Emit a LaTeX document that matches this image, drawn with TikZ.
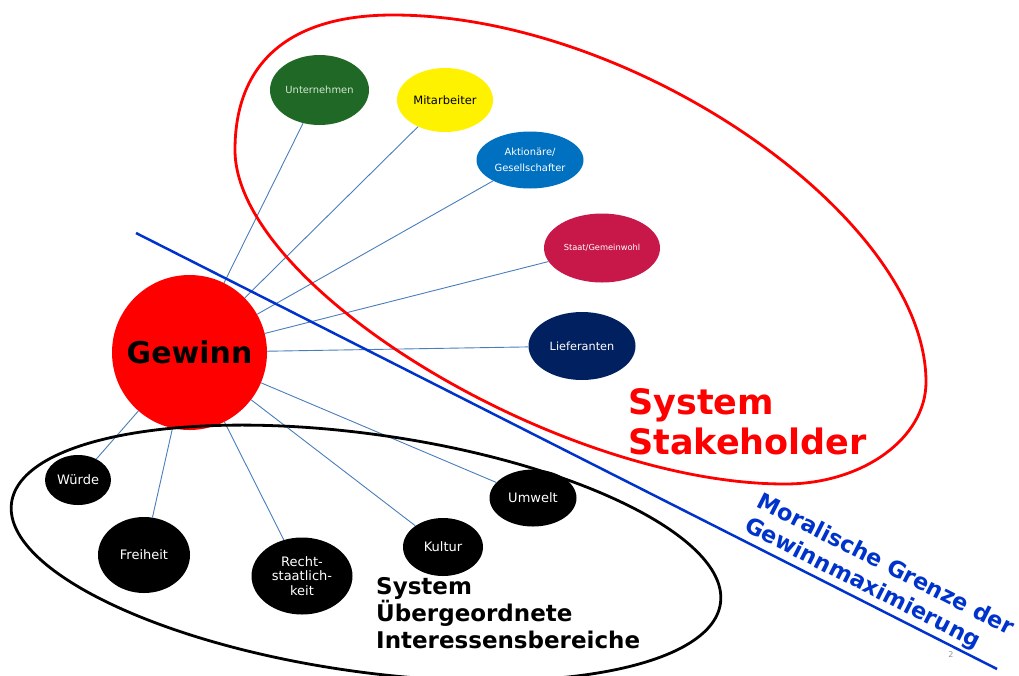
\documentclass[tikz,border=0pt]{standalone}
\usepackage{fontspec}
\setmainfont{DejaVu Sans}
\usetikzlibrary{shapes.geometric}
\definecolor{conncol}{RGB}{74,126,187}
\definecolor{ugreen}{RGB}{31,104,38}
\definecolor{utext}{RGB}{215,232,210}
\definecolor{aktblue}{RGB}{0,112,192}
\definecolor{staatred}{RGB}{200,24,74}
\definecolor{liefblue}{RGB}{0,32,96}
\definecolor{lineblue}{RGB}{0,51,204}
\definecolor{pagegray}{RGB}{150,150,150}
\begin{document}
\begin{tikzpicture}[x=1pt,y=1pt,
  bub/.style={ellipse, inner sep=0pt, align=center, text=white},
  conn/.style={draw=conncol, line width=0.9pt},
  systext/.style={anchor=north west, inner sep=0pt, align=left},
]
\useasboundingbox (0,0) rectangle (1019,-675);
% stakeholder nodes
\node[bub, fill=ugreen, text=utext, minimum width=99, minimum height=70, font=\fontsize{9.9}{12}\selectfont] (u) at (319.5,-90) {Unternehmen};
\node[bub, fill=yellow, text=black, minimum width=96, minimum height=64, font=\fontsize{11.5}{13}\selectfont] (m) at (445,-100) {Mitarbeiter};
\node[bub, fill=aktblue, minimum width=107, minimum height=57, font=\fontsize{9.9}{15.7}\selectfont] (a) at (530,-160) {Aktionäre/\\Gesellschafter};
\node[bub, fill=staatred, minimum width=116, minimum height=69, font=\fontsize{8.3}{10}\selectfont] (s) at (602,-248) {Staat/Gemeinwohl};
\node[bub, fill=liefblue, minimum width=107, minimum height=68, font=\fontsize{11.3}{13}\selectfont] (l) at (582,-346) {Lieferanten};
% center
\node[circle, fill=red, inner sep=0pt, minimum size=155, font=\bfseries\fontsize{30}{32}\selectfont] (g) at (189.5,-352.5) {Gewinn};
% higher-level nodes
\node[bub, fill=black, minimum width=66, minimum height=50, font=\fontsize{13}{14.7}\selectfont] (w) at (78,-480) {Würde};
\node[bub, fill=black, minimum width=92, minimum height=76, font=\fontsize{13}{14.7}\selectfont] (f) at (144,-555) {Freiheit};
\node[bub, fill=black, minimum width=101, minimum height=77, font=\fontsize{13}{14.7}\selectfont] (r) at (302,-576) {Recht-\\staatlich-\\keit};
\node[bub, fill=black, minimum width=80, minimum height=58, font=\fontsize{13}{14.7}\selectfont] (k) at (443,-547) {Kultur};
\node[bub, fill=black, minimum width=87, minimum height=57, font=\fontsize{13}{14.7}\selectfont] (e) at (533,-498) {Umwelt};
% connectors
\foreach \t in {u,m,a,s,l,e,k,r,f,w} {\draw[conn] (g) -- (\t);}
% system boundaries
\draw[red, line width=2.8pt] (235,-150) .. controls (235,-62) and (290,-15) .. (393,-15)
  .. controls (633,-15) and (926,-217) .. (926,-382)
  .. controls (926,-438) and (863,-484) .. (785,-484)
  .. controls (559.5,-484) and (235,-287) .. (235,-150) -- cycle;
\draw[black, line width=2.8pt, rotate around={-8.1:(366,-553)}] (366,-553) ellipse [x radius=358, y radius=118.7];
% moral boundary
\coordinate (b1) at (136,-233);
\coordinate (b2) at (997,-669);
\draw[lineblue, line width=2.5pt] (b1) -- (b2);
% labels
\node[systext, text=red, font=\bfseries\fontsize{35}{40}\selectfont] (t1) at (628,-388) {System\\Stakeholder};
\node[systext, font=\bfseries\fontsize{23}{27}\selectfont] (t2) at (376,-577) {System\\Übergeordnete\\Interessensbereiche};
\node[systext, text=lineblue, font=\bfseries\fontsize{22.5}{27}\selectfont, rotate=-26.9] (t3) at (763,-491) {Moralische Grenze der\\Gewinnmaximierung};
\node[text=pagegray, inner sep=0pt, font=\fontsize{8}{9}\selectfont] (pg) at (951,-655) {2};
\end{tikzpicture}
\end{document}
